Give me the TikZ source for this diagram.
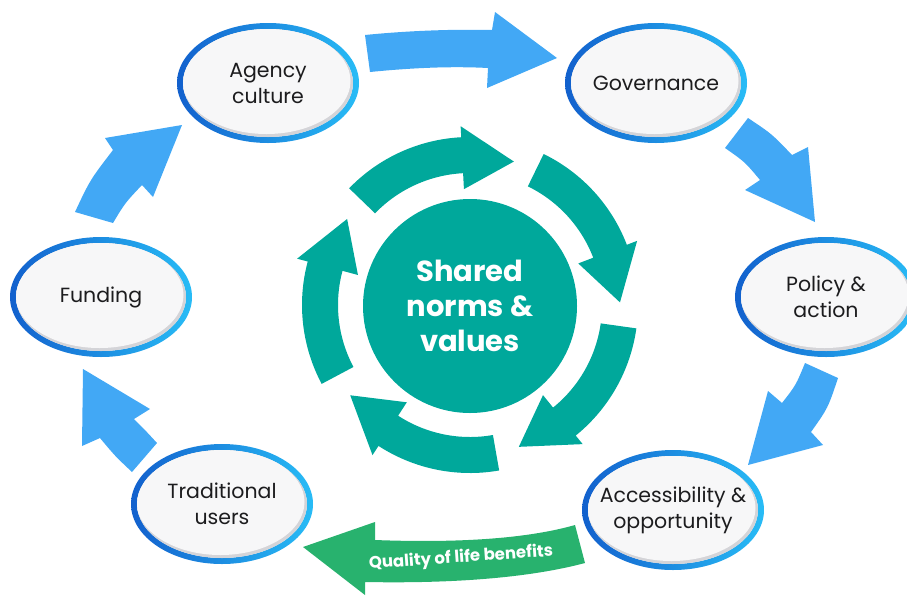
\documentclass[tikz,border=0pt]{standalone}
\usepackage{fontspec}
\setmainfont{Poppins}
\usetikzlibrary{shapes.geometric}
\definecolor{arrowblue}{RGB}{66,168,245}
\definecolor{tealc}{RGB}{0,168,155}
\definecolor{greenc}{RGB}{40,178,110}
\definecolor{rimdark}{RGB}{18,96,205}
\definecolor{rimlight}{RGB}{40,188,246}
\definecolor{innerc}{RGB}{247,247,248}
\definecolor{innershadow}{RGB}{212,212,216}
\definecolor{inkc}{RGB}{28,28,30}
\tikzset{
  bubtext/.style={shape=ellipse, minimum width=170pt, minimum height=108pt, align=center,
    text=inkc, font=\fontsize{20.5}{26}\selectfont, inner sep=0pt},
  bigarrow/.style={fill=arrowblue},
  ringarrow/.style={fill=tealc},
}
\newcommand\bub[3]{%
  \begin{scope}[shift={#2}]
    \shade[even odd rule, left color=rimdark, right color=rimlight]
      (0,0) ellipse[x radius=91, y radius=60] (0,0) ellipse[x radius=85, y radius=54];
    \fill[innershadow] (0,0) ellipse[x radius=85, y radius=54];
    \begin{scope}
      \clip (0,0) ellipse[x radius=85, y radius=54];
      \fill[innerc] (-1.5,-2) ellipse[x radius=84, y radius=53];
    \end{scope}
  \end{scope}
  \node[bubtext] (#1) at #2 {#3};
}
\begin{document}
\begin{tikzpicture}[x=1pt,y=-1pt]
\useasboundingbox (0,0) rectangle (907,595);
% blue arrows
\fill[bigarrow] (365,35) .. controls (405,31) and (450,29) .. (492,30) -- (495,12) -- (557,58) -- (487,88) -- (488,68) .. controls (450,66) and (410,68) .. (370,72) -- cycle;
\fill[bigarrow] (748,118) .. controls (772,134) .. (792,155) -- (808,147) -- (815,222) -- (745,190) -- (760,180) .. controls (745,162) .. (725,148) -- cycle;
\fill[bigarrow] (805,363) -- (838,378) .. controls (828,408) .. (811,432) -- (823,445) -- (748,465) -- (768,391) -- (782,403) .. controls (796,385) .. (805,363) -- cycle;
\fill[bigarrow] (132,472) -- (157,443) .. controls (145,430) .. (134,419) -- (150,409) -- (83,369) -- (82,446) -- (100,438) .. controls (115,456) .. (132,472) -- cycle;
\fill[bigarrow] (75,212) .. controls (90,180) .. (113,150) -- (105,138) -- (182,125) -- (153,197) -- (142,185) .. controls (125,203) .. (113,223) -- cycle;
% green arrow
\fill[greenc] (575,525) .. controls (540,535) and (480,544) .. (375,540) -- (375,522) -- (303,547) -- (365,595) -- (365,582) .. controls (470,584) and (540,575) .. (585,563) -- cycle;
\node[rotate=4, text=white, font=\bfseries\fontsize{16.5}{20}\selectfont] (qol) at (461,558) {Quality of life benefits};
% teal ring arrows
\begin{scope}[shift={(470,305)}, yscale=-1]
\foreach \a in {136,64,-8,-80,-152}{
  \fill[ringarrow] (\a:168) arc[start angle=\a, end angle=\a-43, radius=168]
    -- (\a-43:179) -- (\a-63:150) -- (\a-43:116) -- (\a-43:132)
    arc[start angle=\a-43, end angle=\a, radius=132] -- cycle;
}
\end{scope}
\node[circle, fill=tealc, minimum size=214pt, inner sep=0pt, text=white, align=center,
  font=\bfseries\fontsize{29}{35}\selectfont] (core) at (470,306) {Shared\\norms \&\\values};
% bubbles
\bub{agency}{(268,83)}{Agency\\culture}
\bub{gov}{(656,83)}{Governance}
\bub{policy}{(826,297)}{Policy \&\\action}
\bub{access}{(673,510)}{Accessibility \&\\opportunity}
\bub{trad}{(222,504)}{Traditional\\users}
\bub{fund}{(101,297)}{Funding}
\end{tikzpicture}
\end{document}
